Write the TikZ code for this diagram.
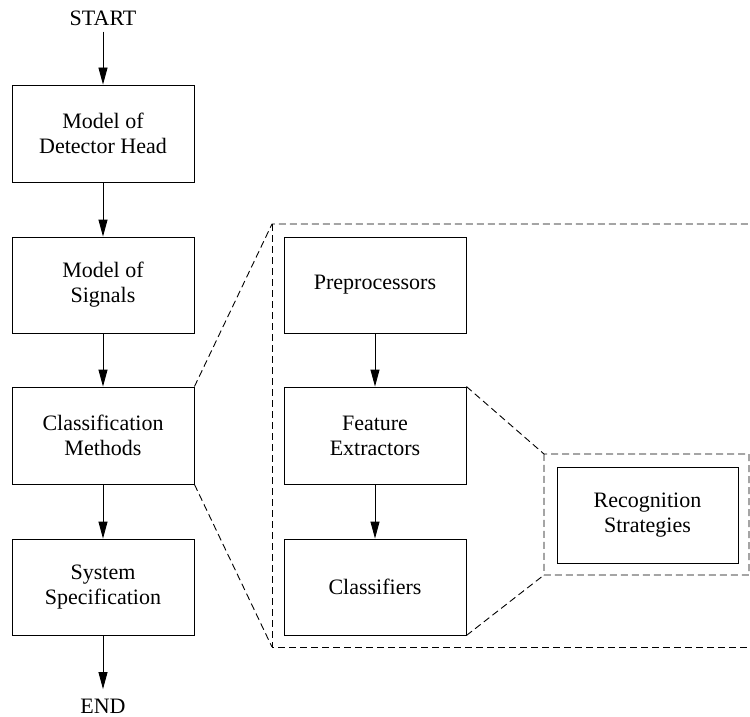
\documentclass[tikz,border=0pt]{standalone}
\usepackage{fontspec}
\setmainfont{Liberation Serif}
\usetikzlibrary{arrows.meta}
\begin{document}
\begin{tikzpicture}[x=1pt,y=-1pt,
  box/.style={draw, line width=0.9pt, minimum width=182pt, minimum height=97pt, align=center, font=\fontsize{22}{25}\selectfont, inner sep=0pt},
  lbl/.style={font=\fontsize{22}{25}\selectfont, inner sep=0pt},
  arr/.style={line width=0.9pt, -{Triangle[length=17pt,width=9pt]}},
  dsh/.style={line width=0.9pt, dash pattern=on 7pt off 4pt}]
\useasboundingbox (0,0) rectangle (750,717);
\clip (0,0) rectangle (750,717);
% left column
\node[lbl] (start) at (103,18) {START};
\node[box] (b1) at (103,133.5) {Model of\\Detector Head};
\node[box, minimum height=96pt] (b2) at (103,285) {Model of\\Signals};
\node[box] (b3) at (103,435.5) {Classification\\Methods};
\node[box, minimum height=96pt] (b4) at (103,587) {System\\Specification};
\node[lbl] (end) at (103,706.5) {END};
% middle column
\node[box, minimum height=96pt] (pre) at (375,285) {Preprocessors};
\node[box] (fea) at (375,435.5) {Feature\\Extractors};
\node[box, minimum height=96pt] (cls) at (375,587) {Classifiers};
% right
\node[box, minimum width=181pt, minimum height=96pt] (rec) at (647.5,515) {Recognition\\Strategies};
% arrows
\draw[arr, shorten <=6pt] (start.south) -- (b1.north);
\draw[arr] (b1) -- (b2);
\draw[arr] (b2) -- (b3);
\draw[arr] (b3) -- (b4);
\draw[arr, shorten >=10pt] (b4.south) -- (end.north);
\draw[arr] (pre) -- (fea);
\draw[arr] (fea) -- (cls);
% outer dashed frame
\coordinate (otl) at (272,224);
\coordinate (obl) at (272,647);
\coordinate (otr) at (752,224);
\coordinate (obr) at (752,647);
\draw[dsh] (b3.north east) -- (otl) -- (otr);
\draw[dsh] (otl) -- (obl) -- (obr);
\draw[dsh] (b3.south east) -- (obl);
% inner dashed frame
\coordinate (itl) at (544,454);
\coordinate (ibl) at (544,575);
\coordinate (itr) at (749,454);
\coordinate (ibr) at (749,575);
\draw[dsh] (fea.north east) -- (itl) -- (itr) -- (ibr) -- (ibl) -- (itl);
\draw[dsh] (cls.south east) -- (ibl);
\end{tikzpicture}
\end{document}
